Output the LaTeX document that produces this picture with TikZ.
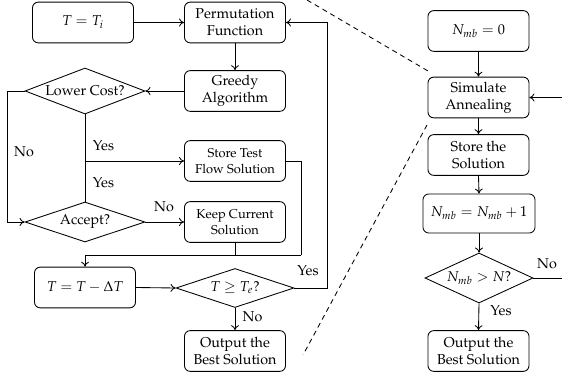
\documentclass[tikz,border=0pt]{standalone}
\usepackage[T1]{fontenc}
\usepackage{mathpazo}
\usetikzlibrary{shapes.geometric,arrows.meta}
\begin{document}
\begin{tikzpicture}[x=0.7pt,y=-0.7pt,
  box/.style={draw,rounded corners=4pt,align=center,inner sep=0pt,
    minimum width=70.7pt,minimum height=28.5pt,line width=0.6pt},
  smallbox/.style={box,font=\small},
  dia/.style={draw,diamond,inner sep=0pt,line width=0.6pt},
  conn/.style={line width=0.6pt},
  arr/.style={conn,-{To[length=3.5pt,width=5.5pt]}},
  lab/.style={inner sep=0pt},
  dashline/.style={line width=0.6pt,dash pattern=on 3.5pt off 2.8pt}
]
\useasboundingbox (0,0) rectangle (562,381);

% left column
\node[box] (ti) at (83,22.5) {$T = T_i$};
\node[box] (pm) at (235,22.5) {Permutation\\Function};
\node[box] (gr) at (235,91) {Greedy\\Algorithm};
\node[dia,minimum width=84pt,minimum height=32.2pt] (lc) at (85,91) {\makebox[0pt]{Lower Cost?}};
\node[smallbox] (st) at (235,161) {Store Test\\Flow Solution};
\node[dia,minimum width=84pt,minimum height=28pt] (acc) at (85,222) {\makebox[0pt]{Accept?}};
\node[smallbox] (kp) at (235,222) {Keep Current\\Solution};
\node[box] (td) at (85,287.5) {$T = T - \Delta T$};
\node[dia,minimum width=82.6pt,minimum height=27.3pt] (te) at (235,288) {\makebox[0pt]{$T \geq T_e$?}};
\node[box] (o1) at (235,351) {Output the\\Best Solution};

% right column
\node[box] (n0) at (478.5,31) {$N_{mb} = 0$};
\node[box] (sa) at (478.5,97.5) {Simulate\\Annealing};
\node[box] (ss) at (478.5,155) {Store the\\Solution};
\node[box,minimum width=78.4pt,minimum height=27.3pt] (ni) at (479,213.5) {$N_{mb} = N_{mb} + 1$};
\node[dia,minimum width=75.6pt,minimum height=35pt] (nc) at (479,278) {\makebox[0pt]{$N_{mb} > N$?}};
\node[box] (o2) at (478.5,351) {Output the\\Best Solution};

% coordinates
\coordinate (jr) at (301,255);
\coordinate (ty) at (327,288);
\coordinate (re1) at (562,278);
\coordinate (re2) at (562,97.5);

% left connectors
\draw[arr] (ti.east) -- (pm.west);
\draw[arr] (pm.south) -- (gr.north);
\draw[arr] (gr.west) -- (lc.east);
\draw[arr] (lc.west) -- ++(-17,0) |- (acc.west);
\draw[conn] (lc.south) -- (acc.north);
\draw[arr] (lc.south |- st.west) -- (st.west);
\draw[arr] (acc.east) -- (kp.west);
\draw[conn] (kp.south) -- (kp.south |- jr);
\draw[conn] (st.east) -| (jr);
\draw[arr] (jr) -- (td.north |- jr) -- (td.north);
\draw[arr] (td.east) -- (te.west);
\draw[arr] (te.east) -- (ty) |- (pm.east);
\draw[arr] (te.south) -- (o1.north);

% right connectors
\draw[arr] (n0.south) -- (sa.north);
\draw[arr] (sa.south) -- (ss.north);
\draw[arr] (ss.south) -- (ni.north);
\draw[arr] (ni.south) -- (nc.north);
\draw[conn] (nc.east) -- (re1);
\draw[arr] (re2) -- (sa.east);
\draw[arr] (nc.south) -- (o2.north);

% labels
\node[lab] (l1) at (24,152) {No};
\node[lab] (l2) at (103.5,146) {Yes};
\node[lab] (l3) at (103.5,183) {Yes};
\node[lab] (l4) at (164,207) {No};
\node[lab] (l5) at (308,271) {Yes};
\node[lab] (l6) at (252.5,317) {No};
\node[lab] (l7) at (547,264) {No};
\node[lab] (l8) at (501,311) {Yes};

% zoom dashed lines
\coordinate (d1a) at (307,0);
\coordinate (d1b) at (428,71);
\coordinate (d2a) at (427,125);
\coordinate (d2b) at (303,355);
\draw[dashline] (d1a) -- (d1b);
\draw[dashline] (d2a) -- (d2b);
\end{tikzpicture}
\end{document}
